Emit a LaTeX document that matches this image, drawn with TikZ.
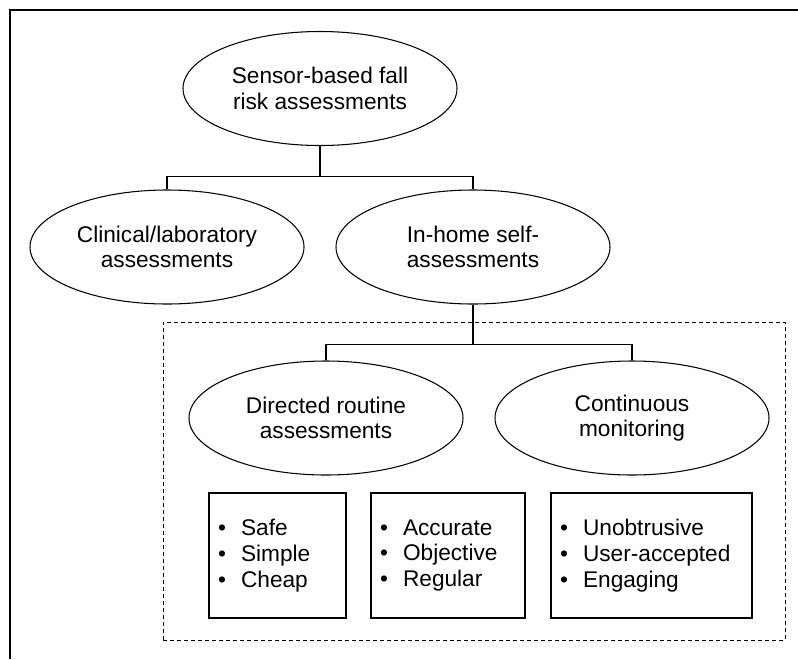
\documentclass[tikz,border=0pt]{standalone}
\usepackage{fontspec}
\setmainfont{Liberation Sans}
\usepackage{tikz}
\usetikzlibrary{shapes.geometric}

\tikzset{
	bubble/.style = {draw, ellipse, line width=0.6pt, align=center, inner sep=0pt, minimum width=5.48cm, minimum height=2.28cm, font=\fontsize{12.9}{14.4}\selectfont},
	listbox/.style = {draw, rectangle, line width=0.6pt, align=left, inner xsep=0.18cm, inner ysep=0pt, minimum height=2.5cm, font=\fontsize{12.9}{14.6}\selectfont},
	link/.style = {line width=0.6pt},
	groupbox/.style = {draw, rectangle, line width=0.5pt, dash pattern=on 0.08cm off 0.06cm, inner sep=0pt, minimum width=12.44cm, minimum height=6.36cm}
}

\begin{document}
\begin{tikzpicture}
	\useasboundingbox (0,0) rectangle (15.96,-13.18);
	
	\draw[line width=1.2pt] (0.2,-13.18) -- (0.2,-0.2) -- (15.96,-0.2);
	
	\node[groupbox] (homebox) at (9.48,-9.62) {};
	
	\node[bubble] (sensor) at (6.40,-1.77) {Sensor-based fall\\risk assessments};
	
	\node[bubble, below of= sensor, node distance=3.17cm, xshift=-3.06cm] (clinical) {Clinical/laboratory\\assessments};
	
	\node[bubble, right of= clinical, node distance=6.12cm] (inhome) {In-home self-\\assessments};
	
	\node[bubble, below of= inhome, node distance=3.42cm, xshift=-2.94cm] (directed) {Directed routine\\assessments};
	
	\node[bubble, right of= directed, node distance=6.12cm] (continuous) {Continuous\\monitoring};
	
	\node[listbox, below of= directed, node distance=2.75cm, xshift=-0.97cm, text width=2.38cm] (safety) {\textbullet\ \ Safe\\\textbullet\ \ Simple\\\textbullet\ \ Cheap};
	
	\node[listbox, below of= directed, node distance=2.75cm, xshift=2.44cm, text width=2.72cm] (quality) {\textbullet\ \ Accurate\\\textbullet\ \ Objective\\\textbullet\ \ Regular};
	
	\node[listbox, below of= continuous, node distance=2.75cm, xshift=0.39cm, text width=3.66cm] (comfort) {\textbullet\ \ Unobtrusive\\\textbullet\ \ User-accepted\\\textbullet\ \ Engaging};
	
	\draw[link] (sensor.south) -- ++(0,-0.6) -| (clinical.north);
	
	\draw[link] (sensor.south) -- ++(0,-0.6) -| (inhome.north);
	
	\draw[link] (inhome.south) -- ++(0,-0.8) -| (directed.north);
	
	\draw[link] (inhome.south) -- ++(0,-0.8) -| (continuous.north);
\end{tikzpicture}
\end{document}
